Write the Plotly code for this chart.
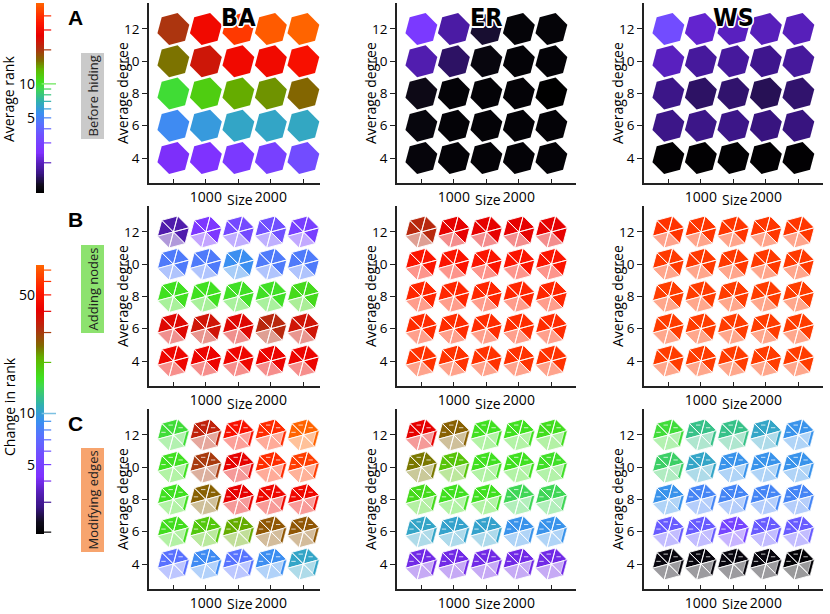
import numpy as np
import plotly.graph_objects as go
from plotly.colors import sample_colorscale

W, H = 830, 614

sizes = [500, 1000, 1500, 2000, 2500]
degrees = [12, 10, 8, 6, 4]          # rows, top to bottom
networks = ["BA", "ER", "WS"]

# A: average rank before hiding (rows degree 12 -> 4, cols size 500 -> 2500)
before_ba = [[20.1, 29.9, 42.7, 50.0, 52.0],
             [15.9, 23.6, 29.9, 30.0, 32.4],
             [9.7, 11.6, 13.8, 14.7, 16.5],
             [5.3, 5.9, 6.4, 6.4, 6.5],
             [2.4, 2.5, 2.7, 2.9, 3.3]]
before_er = [[2.7, 1.8, 1.32, 1.13, 1.13],
             [1.88, 1.48, 1.17, 1.12, 1.12],
             [1.22, 1.12, 1.12, 1.12, 1.08],
             [1.16, 1.12, 1.12, 1.12, 1.12],
             [1.15, 1.12, 1.12, 1.12, 1.12]]
before_ws = [[3.3, 2.1, 2.0, 1.96, 1.96],
             [2.0, 1.74, 1.74, 1.64, 1.74],
             [1.61, 1.48, 1.51, 1.43, 1.51],
             [1.61, 1.61, 1.61, 1.57, 1.57],
             [1.1, 1.1, 1.1, 1.1, 1.1]]

# B: change in rank after adding nodes
nodes_ba = [[3.25, 4.5, 5.4, 5.8, 4.9],
            [7.8, 7.8, 9.0, 7.8, 7.8],
            [16.2, 16.2, 16.0, 16.0, 16.8],
            [38.6, 36.0, 38.6, 32.4, 36.0],
            [43.0, 42.0, 43.0, 42.0, 42.0]]
nodes_er = [[32.4, 40.0, 40.0, 40.0, 40.0],
            [50.0, 50.0, 50.0, 50.0, 50.0],
            [56.0, 56.0, 56.0, 56.0, 56.0],
            [58.0, 58.0, 58.0, 58.0, 58.0],
            [60.0, 60.0, 60.0, 60.0, 60.0]]
nodes_ws = [[60.0, 61.0, 61.0, 61.0, 61.0],
            [62.0, 62.0, 62.0, 62.0, 62.0],
            [63.0, 63.0, 63.0, 63.0, 63.0],
            [63.0, 63.0, 63.0, 63.0, 63.0],
            [63.0, 63.0, 63.0, 63.0, 63.0]]

# C: change in rank after modifying edges
edges_ba = [[15.3, 33.6, 48.4, 58.0, 75.0],
            [16.2, 30.1, 40.0, 58.0, 63.6],
            [16.2, 26.0, 40.0, 43.3, 44.0],
            [16.5, 18.9, 21.5, 27.0, 27.0],
            [7.3, 8.7, 7.4, 8.9, 10.4]]
edges_er = [[40.0, 26.0, 16.2, 16.2, 16.5],
            [24.3, 19.4, 16.2, 16.2, 15.9],
            [16.8, 16.2, 16.2, 14.3, 14.3],
            [10.4, 10.2, 10.2, 9.2, 9.2],
            [3.9, 3.9, 3.9, 3.9, 3.9]]
edges_ws = [[15.3, 12.5, 12.5, 10.4, 9.2],
            [13.7, 10.4, 9.2, 9.2, 9.2],
            [9.2, 8.4, 8.4, 8.4, 8.4],
            [6.3, 6.3, 5.2, 6.3, 6.3],
            [2.1, 2.1, 2.1, 2.1, 2.0]]

rank_range = [1.08, 52.0]      # colour bar A (log)
change_range = [1.95, 75.0]    # colour bar B/C (log)
rank_ticks = [2, 3, 4, 5, 6, 7, 8, 9, 20, 30, 40]
change_ticks = [2, 3, 4, 5, 6, 7, 8, 9, 20, 30, 40, 50, 60, 70]

scale = [[0.00, "#000000"], [0.04, "#100c1c"], [0.10, "#3a1585"],
         [0.16, "#5a20c0"], [0.21, "#8030ff"], [0.30, "#7050ff"],
         [0.36, "#5a70ff"], [0.42, "#3a90f0"], [0.48, "#30b0b0"],
         [0.55, "#40d850"], [0.58, "#40e020"], [0.65, "#60b800"],
         [0.70, "#806a00"], [0.76, "#b03010"], [0.83, "#e80000"],
         [0.90, "#ff1800"], [0.95, "#ff3a00"], [1.00, "#ff6400"]]

FONT = "Open Sans"


def frac(v, rng):
    lo, hi = np.log10(rng[0]), np.log10(rng[1])
    return float(np.clip((np.log10(v) - lo) / (hi - lo), 0, 1))


def rgb(f):
    s = sample_colorscale(scale, [f])[0]
    return [float(c) for c in s[s.index("(") + 1:-1].split(",")]


def css(c):
    return "rgb(%d,%d,%d)" % tuple(int(round(x)) for x in c)


def tint(c, t):
    return [x + t * (255 - x) for x in c]


def px_x(p):
    return p / W


def px_y(p):
    return 1 - p / H


col_px = [(149, 320), (397, 576), (644, 823)]
row_top = [3, 206, 409]
row_h = 180
XMIN, XSCALE = 125, 0.065     # px per size unit
YMIN, YMAX = 2.45, 13.61
YSCALE = row_h / (YMAX - YMIN)
R = 16.5                      # hexagon radius in px
ang = np.deg2rad(15 + 60 * np.arange(7))
mid = np.deg2rad([45, 105, 165])

fig = go.Figure()
layout = {}

panels = [[before_ba, before_er, before_ws],
          [nodes_ba, nodes_er, nodes_ws],
          [edges_ba, edges_er, edges_ws]]
tints = [None, [0, 0, 0, 0.55, 0.55, 0], [0, 0, 0, 0.6, 0.6, 0.6]]

for r in range(3):
    for c in range(3):
        k = r * 3 + c + 1
        xa, ya = "x%d" % k, "y%d" % k
        x0, x1 = col_px[c]
        t0 = row_top[r]
        layout["xaxis%d" % k] = dict(
            domain=[px_x(x0), px_x(x1)], anchor=ya,
            range=[XMIN, XMIN + (x1 - x0) / XSCALE],
            tickvals=sizes, ticktext=["", "1000", "", "2000", ""],
            ticks="inside", ticklen=4, tickwidth=1, tickcolor="#222",
            showline=True, linecolor="#222", linewidth=1.5,
            showgrid=False, zeroline=False,
            tickfont=dict(size=14, color="black", family=FONT))
        layout["yaxis%d" % k] = dict(
            domain=[px_y(t0 + row_h), px_y(t0)], anchor=xa,
            range=[YMIN, YMAX], tickvals=[4, 6, 8, 10, 12],
            ticks="outside", ticklen=5, tickwidth=1, tickcolor="#222",
            showline=True, linecolor="#222", linewidth=1.5,
            showgrid=False, zeroline=False,
            tickfont=dict(size=13.5, color="black", family=FONT))
        vals = panels[r][c]
        rng = rank_range if r == 0 else change_range
        dash_x, dash_y = [], []
        for i, d in enumerate(degrees):
            for j, s in enumerate(sizes):
                base = rgb(frac(vals[i][j], rng))
                hx = s + R * np.cos(ang) / XSCALE
                hy = d + R * np.sin(ang) / YSCALE
                if r == 0:
                    fig.add_trace(go.Scatter(
                        x=hx, y=hy, xaxis=xa, yaxis=ya, mode="lines",
                        fill="toself", fillcolor=css(base), line=dict(width=0),
                        hoverinfo="skip", showlegend=False))
                    continue
                groups = {}
                for w in range(6):
                    key = tints[r][w]
                    gx, gy = groups.setdefault(key, ([], []))
                    gx += [s, hx[w], hx[w + 1], s, None]
                    gy += [d, hy[w], hy[w + 1], d, None]
                for key, (gx, gy) in groups.items():
                    fig.add_trace(go.Scatter(
                        x=gx, y=gy, xaxis=xa, yaxis=ya, mode="lines",
                        fill="toself", fillcolor=css(tint(base, key)),
                        line=dict(width=0.9, color="white"),
                        hoverinfo="skip", showlegend=False))
                if r == 2:
                    # thin dark rim on the lower-right wedge
                    a, b = 5, 6
                    q = 0.8
                    sx = [hx[a], hx[b], s + q * (hx[b] - s), s + q * (hx[a] - s), hx[a]]
                    sy = [hy[a], hy[b], d + q * (hy[b] - d), d + q * (hy[a] - d), hy[a]]
                    fig.add_trace(go.Scatter(
                        x=sx, y=sy, xaxis=xa, yaxis=ya, mode="lines",
                        fill="toself", fillcolor=css(base),
                        line=dict(width=0.6, color="white"),
                        hoverinfo="skip", showlegend=False))
                    for m in mid:
                        mx = s + 0.62 * R * np.cos(m) / XSCALE
                        my = d + 0.62 * R * np.sin(m) / YSCALE
                        dash_x += [mx - 2.2 / XSCALE, mx + 2.2 / XSCALE, None]
                        dash_y += [my, my, None]
        if dash_x:
            fig.add_trace(go.Scatter(
                x=dash_x, y=dash_y, xaxis=xa, yaxis=ya, mode="lines",
                line=dict(width=1, color="rgba(255,255,255,0.75)"),
                hoverinfo="skip", showlegend=False))

# colour bars
bars = [(10, rank_range, (3, 193), rank_ticks, [5, 10]),
        (11, change_range, (265, 534), change_ticks, [5, 10, 50])]
for k, rng, (top, bot), ticks, labels in bars:
    lo, hi = np.log10(rng[0]), np.log10(rng[1])
    n = 256
    fig.add_trace(go.Heatmap(
        z=np.linspace(0, 1, n).reshape(-1, 1), x=[0, 1],
        y=np.linspace(lo, hi, n + 1), colorscale=scale, zmin=0, zmax=1,
        showscale=False, hoverinfo="skip", xaxis="x%d" % k, yaxis="y%d" % k))
    fig.add_trace(go.Scatter(
        x=[1.375] * len(ticks), y=np.log10(ticks), mode="markers",
        marker=dict(symbol="line-ew", size=6,
                    line=dict(width=1.2, color=[css(rgb(frac(v, rng))) for v in ticks])),
        xaxis="x%d" % k, yaxis="y%d" % k, hoverinfo="skip", showlegend=False))
    fig.add_trace(go.Scatter(
        x=[1.75], y=[1.0], mode="markers",
        marker=dict(symbol="line-ew", size=12,
                    line=dict(width=1.5, color=css(tint(rgb(frac(10, rng)), 0.35)))),
        xaxis="x%d" % k, yaxis="y%d" % k, hoverinfo="skip", showlegend=False))
    layout["xaxis%d" % k] = dict(domain=[px_x(36), px_x(56)], range=[0, 2.5],
                                 visible=False, anchor="y%d" % k)
    layout["yaxis%d" % k] = dict(
        domain=[px_y(bot), px_y(top)], range=[lo, hi], anchor="x%d" % k,
        tickvals=np.log10(labels), ticktext=[str(v) for v in labels],
        ticks="", showline=False, showgrid=False, zeroline=False,
        tickfont=dict(size=14, color="black", family=FONT))

ann = []
for title, yc in [("Average rank", 99), ("Change in rank", 407)]:
    ann.append(dict(text=title, x=px_x(9), y=px_y(yc), textangle=-90,
                    font=dict(size=14, family=FONT, color="black")))

outline = ("1.5px 0 0 white, -1.5px 0 0 white, 0 1.5px 0 white, 0 -1.5px 0 white, "
           "1px 1px 0 white, -1px -1px 0 white, 1px -1px 0 white, -1px 1px 0 white")
for c, name in enumerate(networks):
    x0, x1 = col_px[c]
    cx = x0 + (1500 - XMIN) * XSCALE
    ann.append(dict(text="<b>%s</b>" % name, x=px_x(cx), y=px_y(17),
                    font=dict(size=25, family="DejaVu Sans Condensed", color="black",
                              shadow=outline)))
    for r in range(3):
        t0 = row_top[r]
        ann.append(dict(text="Size", x=px_x(cx + 2), y=px_y(min(t0 + row_h + 17, 603)),
                        font=dict(size=14, family=FONT, color="black")))
        ann.append(dict(text="Average degree", x=px_x(x0 - 27), y=px_y(t0 + row_h / 2),
                        textangle=-90, font=dict(size=14, family=FONT, color="black")))

row_labels = [("A", "Before hiding", "#cacaca", 96),
              ("B", "Adding nodes", "#8de26f", 289),
              ("C", "Modifying edges", "#f7a46e", 500)]
for r, (letter, text, col, yc) in enumerate(row_labels):
    ann.append(dict(text="<b>%s</b>" % letter, x=px_x(75), y=px_y(row_top[r] + 14),
                    font=dict(size=21, family="Liberation Sans", color="black")))
    ann.append(dict(text=text, x=px_x(92.5), y=px_y(yc), textangle=-90,
                    bgcolor=col, borderpad=2,
                    font=dict(size=13, family=FONT, color="#222")))

for a in ann:
    a.update(xref="paper", yref="paper", showarrow=False,
             xanchor="center", yanchor="middle")

fig.update_layout(
    width=W, height=H, margin=dict(l=0, r=0, t=0, b=0),
    paper_bgcolor="white", plot_bgcolor="white",
    showlegend=False, annotations=ann, **layout)

fig.write_html("out.html", config={"displayModeBar": False},
               post_script="document.body.style.margin = '0';")
